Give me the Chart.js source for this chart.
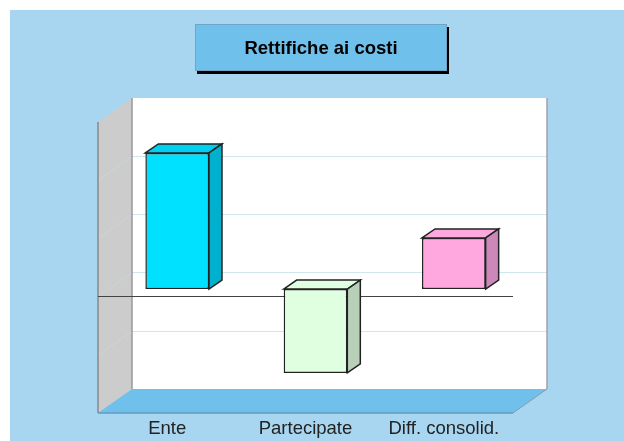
<!DOCTYPE html>
<html lang="it">
<head>
<meta charset="UTF-8">
<title>Rettifiche ai costi</title>
<script src="https://cdn.jsdelivr.net/npm/chart.js@4"></script>
<style>
    html, body { margin: 0; padding: 0; background: #fff; }
    #wrap { position: relative; width: 624px; height: 441px; overflow: hidden; }
    #panel { position: absolute; left: 10px; top: 10px; width: 614px; height: 431px; background: #a8d6f0; }
    #titlebox {
        position: absolute; left: 195px; top: 24px; width: 250px; height: 45px;
        background: #70c0ec; border: 1px solid #6ea5c8; box-shadow: 2px 3px 0 #000;
        font: bold 18.5px "Liberation Sans", sans-serif; color: #000;
        text-align: center; line-height: 46px;
    }
    canvas { position: absolute; left: 0; top: 0; }
</style>
</head>
<body>
<div id="wrap">
    <div id="panel"></div>
    <canvas id="chart" width="624" height="441"></canvas>
    <div id="titlebox">Rettifiche ai costi</div>
</div>
<script>
const categories = ['Ente', 'Partecipate', 'Diff. consolid.'];
const values = [2.34, -1.44, 0.88];
const frontColors = ['#00e0ff', '#e0ffe0', '#ffa8e0'];
const sideColors = ['#00b0cc', '#b8d0b8', '#cc88b8'];
const topColors = ['#00d0f0', '#e0ffe0', '#ffa8e0'];

// depth of the box and of the bars, in pixels
const wallDx = 34, wallDy = -24;
const barDx = 13, barDy = -9;
const barShiftX = 10, barShiftY = -7.5;

function poly(ctx, pts, fill, stroke, lw) {
    ctx.beginPath();
    pts.forEach((p, i) => i ? ctx.lineTo(p[0], p[1]) : ctx.moveTo(p[0], p[1]));
    ctx.closePath();
    if (fill) { ctx.fillStyle = fill; ctx.fill(); }
    if (stroke) { ctx.strokeStyle = stroke; ctx.lineWidth = lw || 1; ctx.stroke(); }
}

function line(ctx, x1, y1, x2, y2, color, lw) {
    ctx.beginPath();
    ctx.moveTo(x1, y1);
    ctx.lineTo(x2, y2);
    ctx.strokeStyle = color;
    ctx.lineWidth = lw || 1;
    ctx.stroke();
}

const box3d = {
    id: 'box3d',
    beforeDatasetsDraw(chart) {
        const { ctx, chartArea: a, scales: { y } } = chart;
        const l = a.left, r = a.right, t = a.top, b = a.bottom;
        const snap = v => Math.round(y.getPixelForValue(v) - 0.2) + 0.5;
        ctx.save();
        // back wall
        poly(ctx, [[l + wallDx, t + wallDy], [r + wallDx, t + wallDy], [r + wallDx, b + wallDy], [l + wallDx, b + wallDy]], '#ffffff');
        // side wall
        poly(ctx, [[l, t], [l + wallDx, t + wallDy], [l + wallDx, b + wallDy], [l, b]], '#cccccc');
        // floor
        poly(ctx, [[l, b], [l + wallDx, b + wallDy], [r + wallDx, b + wallDy], [r, b]], '#70c0ec');
        // grid lines, on the walls
        y.ticks.forEach(tk => {
            if (tk.value === y.min || tk.value === y.max) return;
            const py = snap(tk.value);
            line(ctx, l + wallDx, py + wallDy, r + wallDx, py + wallDy, '#cfe6ee');
            line(ctx, l, py, l + wallDx, py + wallDy, '#c9d6dc');
        });
        // edges
        line(ctx, l + wallDx, t + wallDy, l + wallDx, b + wallDy, '#999999', 1.5);
        line(ctx, l, t, l, b, '#666666', 1);
        line(ctx, r + wallDx, t + wallDy, r + wallDx, b + wallDy, '#a0a0a8', 1.5);
        line(ctx, l, b, r, b, '#5f9bc0', 1.5);
        line(ctx, r, b, r + wallDx, b + wallDy, '#8a9aa6', 1);
        // zero line
        line(ctx, l, snap(0), r, snap(0), '#444444', 1);
        ctx.restore();
    },
    beforeDatasetDraw(chart, args) {
        const { ctx } = chart;
        ctx.save();
        ctx.translate(barShiftX, barShiftY);
        args.meta.data.forEach((bar, i) => {
            const p = bar.getProps(['x', 'y', 'base', 'width']);
            const x1 = p.x - p.width / 2, x2 = p.x + p.width / 2;
            const top = Math.min(p.y, p.base), bot = Math.max(p.y, p.base);
            poly(ctx, [[x1, top], [x1 + barDx, top + barDy], [x2 + barDx, top + barDy], [x2, top]], topColors[i], '#222222', 1.5);
            poly(ctx, [[x2, top], [x2 + barDx, top + barDy], [x2 + barDx, bot + barDy], [x2, bot]], sideColors[i], '#222222', 1.5);
        });
    },
    afterDatasetDraw(chart) {
        chart.ctx.restore();
    }
};

new Chart(document.getElementById('chart'), {
    type: 'bar',
    data: {
        labels: categories,
        datasets: [{
            data: values,
            backgroundColor: frontColors,
            borderColor: '#222222',
            borderWidth: 1.5,
            borderSkipped: false,
            barPercentage: 0.46,
            categoryPercentage: 1
        }]
    },
    options: {
        responsive: false,
        animation: false,
        layout: { padding: { left: 98, right: 111, top: 122, bottom: 0 } },
        plugins: { legend: { display: false }, title: { display: false }, tooltip: { enabled: false } },
        scales: {
            x: {
                grid: { display: false, drawTicks: false },
                border: { display: false },
                afterFit(scale) { scale.height = 28; },
                ticks: { color: '#222222', font: { family: 'Liberation Sans', size: 18.5 }, padding: 5, maxRotation: 0, autoSkip: false }
            },
            y: {
                display: false,
                min: -2,
                max: 3,
                ticks: { stepSize: 1 }
            }
        }
    },
    plugins: [box3d]
});
</script>
</body>
</html>
